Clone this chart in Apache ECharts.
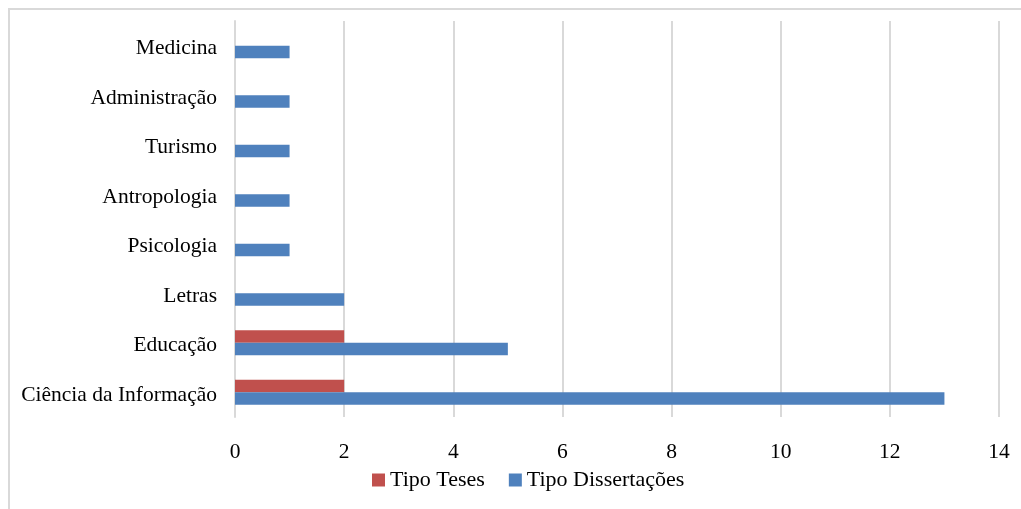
<!DOCTYPE html>
<html><head><meta charset="utf-8">
<script src="https://cdn.jsdelivr.net/npm/echarts@6/dist/echarts.min.js"></script>
<style>
html,body{margin:0;padding:0;width:1021px;height:509px;overflow:hidden;background:#fff;}
#frame{position:absolute;left:8px;top:8px;width:1100px;height:600px;border:2px solid #d9d9d9;box-sizing:border-box;}
#c{position:absolute;left:0;top:0;width:1021px;height:509px;}
</style></head>
<body>
<div id="frame"></div>
<div id="c"></div>
<script>
const categories = ['Ciência da Informação','Educação','Letras','Psicologia','Antropologia','Turismo','Administração','Medicina'];
const teses = [2,2,0,0,0,0,0,0];
const dissertacoes = [13,5,2,1,1,1,1,1];
const xTicks = [0,2,4,6,8,10,12,14];
const seriesNames = ['Tipo Teses','Tipo Dissertações'];

const font = 'Liberation Serif';
const chart = echarts.init(document.getElementById('c'), null, {renderer:'canvas'});
chart.setOption({
  animation:false,
  backgroundColor:'transparent',
  grid:{left:235,right:22,top:21,bottom:92,containLabel:false},
  legend:{data:seriesNames,bottom:13,left:367,itemWidth:13,itemHeight:13,itemGap:24,icon:'rect',
    textStyle:{fontFamily:font,fontSize:22,color:'#000',padding:[2,0,0,0]}},
  xAxis:{type:'value',min:xTicks[0],max:xTicks[xTicks.length-1],interval:2,
    axisLine:{show:false},axisTick:{show:false},
    splitLine:{lineStyle:{color:'#d9d9d9',width:2}},
    axisLabel:{margin:24,fontFamily:font,fontSize:21.5,color:'#000'}},
  yAxis:{type:'category',data:categories,
    axisLine:{show:true,lineStyle:{color:'#d9d9d9',width:2}},axisTick:{show:false},
    axisLabel:{margin:18,color:'#000',
      formatter:function(v){return '{a|'+v+'}';},
      rich:{a:{fontFamily:font,fontSize:21.5,color:'#000',padding:[6,0,0,0]}}}},
  series:[
    {name:seriesNames[0],type:'bar',data:teses,itemStyle:{color:'#c0504d'},barWidth:12.5,barGap:'0%'},
    {name:seriesNames[1],type:'bar',data:dissertacoes,itemStyle:{color:'#4f81bd'},barWidth:12.5,barGap:'0%'}
  ]
});
</script>
</body></html>
